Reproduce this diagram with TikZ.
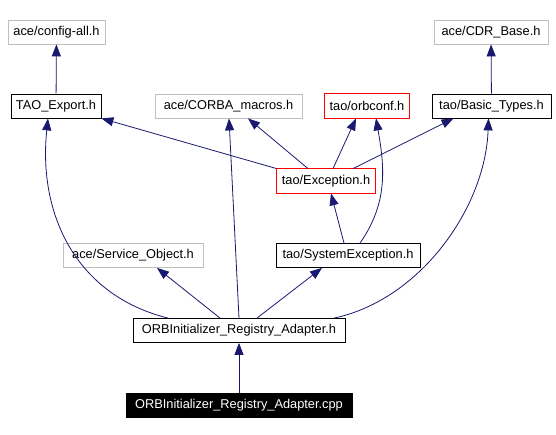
\documentclass[tikz,border=0pt]{standalone}
\usepackage{fontspec}
\setmainfont{Liberation Sans}
\usepackage{tikz}
\usetikzlibrary{arrows.meta, positioning, calc}
\definecolor{edgeblue}{RGB}{25,25,112}
\definecolor{boxgray}{RGB}{191,191,191}
\definecolor{boxred}{RGB}{255,0,0}

\begin{document}
\begin{tikzpicture}[x=1pt,y=1pt,
                                                inc/.style={-{Triangle[length=12pt,width=9pt]},draw=edgeblue,line width=0.8pt},
                                                file node/.style={rectangle,draw=black,inner sep=0pt,minimum height=24pt,line width=0.8pt,font=\fontsize{12.8}{15}\selectfont},
                                                ext node/.style={file node,draw=boxgray},
                                                red node/.style={file node,draw=none},
                                                red box/.style={draw=boxred,line width=0.8pt},
                                                src node/.style={file node,fill=black,text=white}]
                                        \useasboundingbox (0,0) rectangle (556,435);
                                        \node[ext node,minimum width=97pt] (cfg) at (56.5,403) {ace/config-all.h};
                                        \node[file node,minimum width=90pt] (taoexp) at (56,329) {TAO\_Export.h};
                                        \node[ext node,minimum width=147pt] (corba) at (228.5,329) {ace/CORBA\_macros.h};
                                        \node[red node,minimum width=84pt] (orbconf) at (367,329) {tao/orbconf.h};
                                        \node[file node,minimum width=119pt] (basic) at (491.5,329) {tao/Basic\_Types.h};
                                        \node[ext node,minimum width=114pt] (cdr) at (491,403) {ace/CDR\_Base.h};
                                        \node[red node,minimum width=98pt] (exc) at (326,254) {tao/Exception.h};
                                        \node[ext node,minimum width=140pt] (svc) at (133,179.5) {ace/Service\_Object.h};
                                        \node[file node,minimum width=144pt] (sysexc) at (348,179.5) {tao/SystemException.h};
                                        \node[file node,minimum width=212pt] (adapth) at (239,104.5) {ORBInitializer\_Registry\_Adapter.h};
                                        \node[src node,minimum width=226pt] (cpp) at (239,29.5) {ORBInitializer\_Registry\_Adapter.cpp};

                                        % red frames
                                        \draw[red box] (orbconf.south west) rectangle (orbconf.north east);
                                        \draw[red box] (exc.south west) rectangle (exc.north east);

                                        % include edges
                                        \draw[inc] (taoexp) -- (cfg);
                                        \draw[inc] (basic) -- (cdr);
                                        \draw[inc] (exc.north west) -- (taoexp.south east);
                                        \draw[inc] ([xshift=-18pt]exc.north) -- ([xshift=19.5pt]corba.south);
                                        \draw[inc] ([xshift=7pt]exc.north) -- ([xshift=-11pt]orbconf.south);
                                        \draw[inc] ([xshift=27pt]exc.north) -- ([xshift=-38pt]basic.south);
                                        \draw[inc] ([xshift=-4pt]sysexc.north) -- ([xshift=5pt]exc.south);
                                        \draw[inc] ([xshift=12pt]sysexc.north) to[out=55,in=-80] ([xshift=9pt]orbconf.south);
                                        \draw[inc] ([xshift=-71pt]adapth.north) to[out=166,in=-96,looseness=1.05] ([xshift=-8pt]taoexp.south);
                                        \draw[inc] (adapth.north) -- ([xshift=0.5pt]corba.south);
                                        \draw[inc] ([xshift=-19pt]adapth.north) -- ([xshift=24pt]svc.south);
                                        \draw[inc] ([xshift=18pt]adapth.north) -- ([xshift=-26pt]sysexc.south);
                                        \draw[inc] ([xshift=95pt]adapth.north) to[out=12,in=-92,looseness=0.9] ([xshift=-3pt]basic.south);
                                        \draw[inc] (cpp) -- (adapth);
                                \end{tikzpicture}
\end{document}
